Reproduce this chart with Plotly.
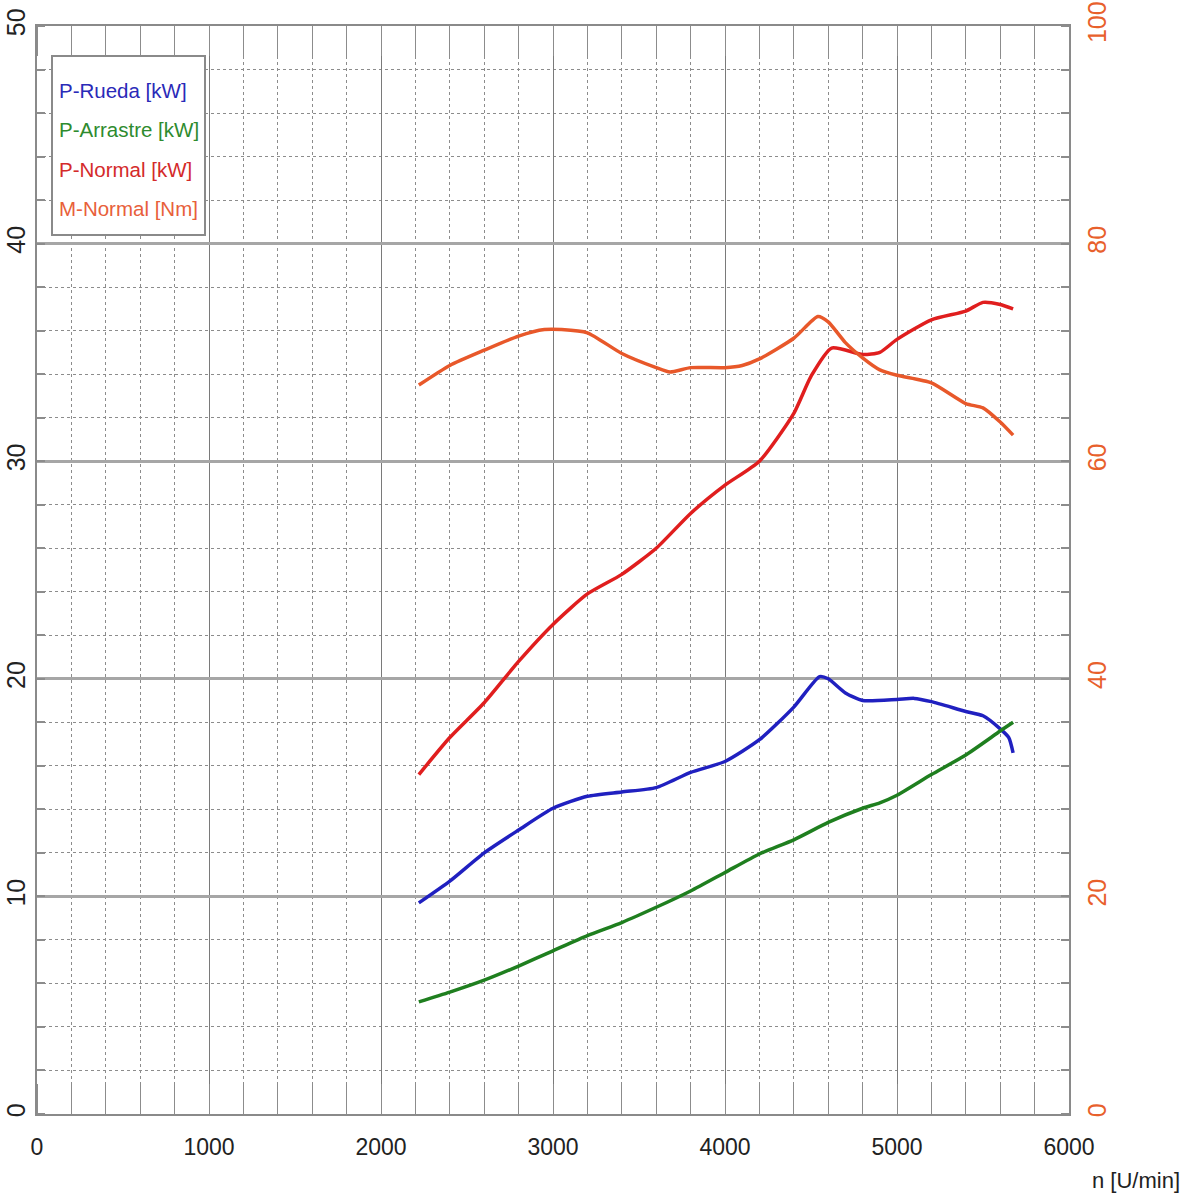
import plotly.graph_objects as go

# ---- data ----
rpm_rueda = [2220, 2400, 2600, 2800, 3000, 3200, 3400, 3600, 3800, 4000, 4200, 4400, 4550, 4600, 4700, 4800, 5000, 5100, 5200, 5400, 5500, 5600, 5650, 5675]
p_rueda = [9.7, 10.7, 12.0, 13.05, 14.05, 14.6, 14.8, 15.0, 15.7, 16.2, 17.2, 18.7, 20.1, 20.0, 19.35, 19.0, 19.05, 19.1, 18.95, 18.5, 18.3, 17.7, 17.3, 16.6]

rpm_arr = [2220, 2400, 2600, 2800, 3000, 3200, 3400, 3600, 3800, 4000, 4200, 4400, 4600, 4800, 4900, 5000, 5200, 5400, 5600, 5675]
p_arrastre = [5.15, 5.6, 6.15, 6.8, 7.5, 8.2, 8.8, 9.5, 10.25, 11.1, 11.95, 12.6, 13.4, 14.05, 14.3, 14.65, 15.6, 16.5, 17.6, 18.0]

rpm_norm = [2220, 2400, 2600, 2800, 3000, 3200, 3400, 3600, 3800, 4000, 4200, 4400, 4500, 4620, 4800, 4900, 5000, 5200, 5400, 5500, 5600, 5675]
p_normal = [15.6, 17.3, 18.9, 20.8, 22.5, 23.9, 24.8, 26.0, 27.6, 28.9, 30.0, 32.2, 33.9, 35.2, 34.9, 35.0, 35.6, 36.5, 36.9, 37.3, 37.2, 37.0]

rpm_m = [2220, 2400, 2600, 2800, 2950, 3050, 3200, 3400, 3600, 3680, 3800, 4000, 4100, 4200, 4400, 4540, 4600, 4700, 4800, 4900, 5000, 5200, 5400, 5500, 5600, 5675]
m_normal = [67.0, 68.8, 70.2, 71.5, 72.1, 72.1, 71.8, 69.9, 68.6, 68.2, 68.6, 68.6, 68.8, 69.4, 71.3, 73.3, 72.8, 70.9, 69.5, 68.4, 67.9, 67.2, 65.3, 64.9, 63.6, 62.4]

x_ticks = [0, 1000, 2000, 3000, 4000, 5000, 6000]
y_ticks = [0, 10, 20, 30, 40, 50]
y2_ticks = [0, 20, 40, 60, 80, 100]

names = ["P-Rueda [kW]", "P-Arrastre [kW]", "P-Normal [kW]", "M-Normal [Nm]"]
line_colors = ["#2020c0", "#1f7f1f", "#e01e1e", "#e8582a"]
text_colors = ["#2a2ab8", "#2e8b2e", "#d42a2a", "#e8603a"]
orange_lbl = "#e8602c"
FONT = "Liberation Sans, Arial, sans-serif"

# plot area in screen px: x 37..1069, y 26..1114 (page body margin removed)
W, H = 1193, 1198
L, T = 37, 26
PW, PH = 1032, 1088

def px(X):
    return (X - L) / PW

def py(Y):
    return (T + PH - Y) / PH

fig = go.Figure()
series = [(rpm_rueda, p_rueda, "y"), (rpm_arr, p_arrastre, "y"),
          (rpm_norm, p_normal, "y"), (rpm_m, m_normal, "y2")]
for (xs, ys, ax), nm, col in zip(series, names, line_colors):
    fig.add_trace(go.Scatter(x=xs, y=ys, name=nm, yaxis=ax, mode="lines",
                             line=dict(color=col, width=3.5, shape="spline", smoothing=0.6),
                             showlegend=False))

fig.update_layout(
    width=W, height=H,
    margin=dict(l=L, r=W - L - PW, t=T, b=H - T - PH, autoexpand=False),
    paper_bgcolor="white", plot_bgcolor="white",
    font=dict(family=FONT, color="#222"),
    xaxis=dict(range=[0, 6000], tickvals=x_ticks, ticktext=[str(v) for v in x_ticks],
               automargin=False,
               showgrid=True, gridcolor="#7a7a7a", gridwidth=1,
               showline=True, linecolor="#8a8a8a", linewidth=2, mirror="ticks",
               zeroline=False, ticks="", tickfont=dict(size=23, color="#222", family=FONT),
               ticklabelstandoff=11,
               minor=dict(dtick=200, showgrid=True, gridcolor="#8c8c8c", griddash="dot",
                          gridwidth=1, ticks="inside", ticklen=30, tickcolor="#8c8c8c", tickwidth=1)),
    yaxis=dict(range=[0, 50], tickvals=y_ticks, tickangle=-90, automargin=False,
               showgrid=True, gridcolor="#a6a6a6", gridwidth=3,
               showline=True, linecolor="#8a8a8a", linewidth=2, mirror="ticks",
               zeroline=False, ticks="", tickfont=dict(size=25, color="#222", family=FONT),
               ticklabelstandoff=0,
               minor=dict(dtick=2, showgrid=True, gridcolor="#8c8c8c", griddash="dot",
                          gridwidth=1, ticks="inside", ticklen=8, tickcolor="#8c8c8c", tickwidth=2)),
    yaxis2=dict(range=[0, 100], tickvals=y2_ticks, tickangle=-90, overlaying="y", side="right",
                automargin=False,
                showgrid=False, zeroline=False, showline=False, ticks="",
                tickfont=dict(size=25, color=orange_lbl, family=FONT),
                ticklabelstandoff=11),
)

# legend box
fig.add_shape(type="rect", xref="paper", yref="paper",
              x0=px(52), x1=px(205), y0=py(235), y1=py(56),
              line=dict(color="#8a8a8a", width=2), fillcolor="white", layer="above")
for i, (nm, tc) in enumerate(zip(names, text_colors)):
    ypix = 90 + i * 39.5
    fig.add_annotation(xref="paper", yref="paper", x=px(57), y=py(ypix),
                       xanchor="left", yanchor="middle", text=nm, showarrow=False,
                       font=dict(size=20.5, color=tc, family=FONT))

fig.add_annotation(xref="paper", yref="paper", x=px(1182), y=py(1180),
                   xanchor="right", yanchor="middle", text="n [U/min]", showarrow=False,
                   font=dict(size=22, color="#222", family=FONT))

fig.write_html("out.html", config={"displayModeBar": False},
               post_script="document.body.style.margin='0';")
